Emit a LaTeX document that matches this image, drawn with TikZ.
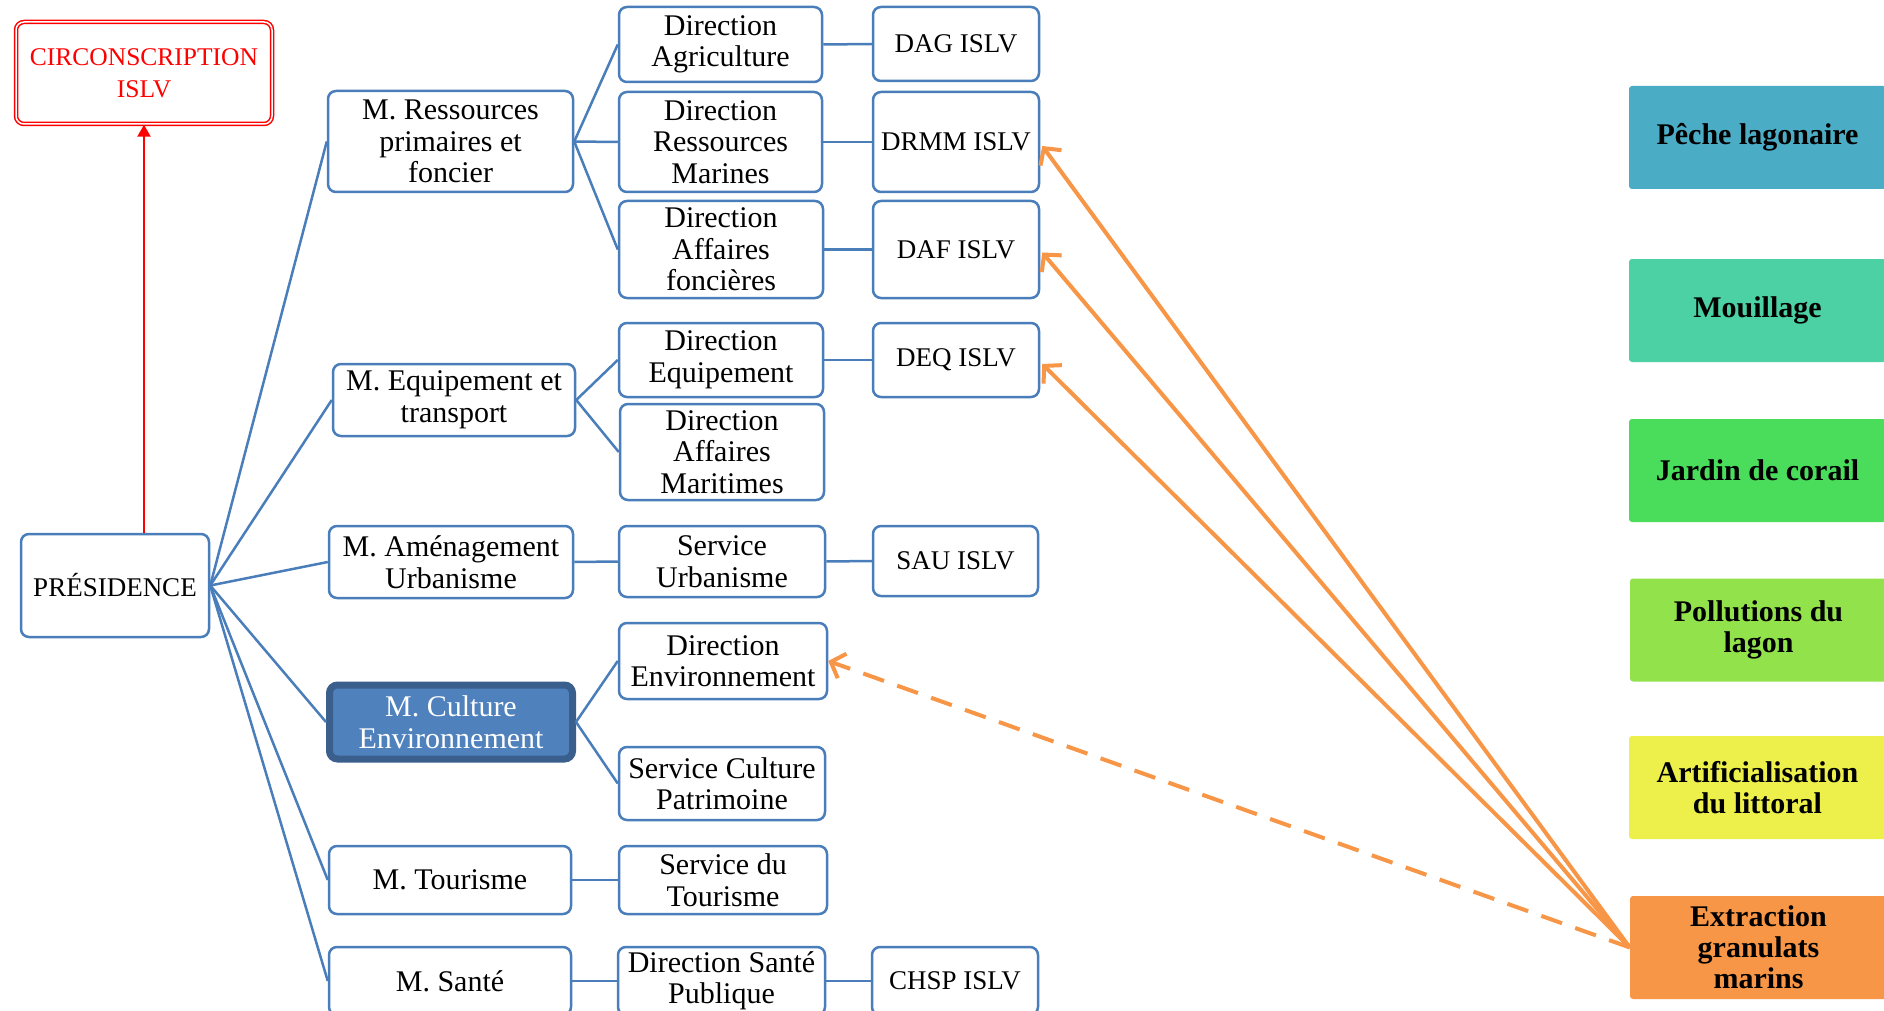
\documentclass[tikz,border=0pt]{standalone}
\usepackage{fontspec}
\setmainfont{Liberation Serif}
\usetikzlibrary{arrows.meta,calc}
\definecolor{bblue}{HTML}{4A7EBB}
\definecolor{cfill}{HTML}{4F81BD}
\definecolor{cdraw}{HTML}{3B5F8D}
\definecolor{oarr}{HTML}{F79646}
\definecolor{cpeche}{HTML}{4BACC6}
\definecolor{cmouil}{HTML}{4BD1A3}
\definecolor{cjardin}{HTML}{4ADD5B}
\definecolor{cpollu}{HTML}{92E34B}
\definecolor{cartif}{HTML}{EDF04A}
\definecolor{cextra}{HTML}{F79646}
\tikzset{
  box/.style={draw=bblue, line width=2.5pt, rounded corners=8pt, fill=white, align=center,
    inner sep=0pt, font=\fontsize{30}{31.5}\selectfont, text=black},
  islv/.style={box, font=\fontsize{27}{31}\selectfont},
  conn/.style={draw=bblue, line width=2.5pt},
  issue/.style={inner sep=0pt, align=center, rounded corners=3pt, minimum width=257pt,
    minimum height=103pt, font=\fontsize{30}{31}\selectfont\bfseries},
  oarrow/.style={draw=oarr, line width=4pt, -{Straight Barb[length=12pt,width=26pt]}},
}
\begin{document}
\begin{tikzpicture}[x=1pt,y=-1pt]
\clip (0,0) rectangle (1884,1011);
\fill[white] (0,0) rectangle (1884,1011);
% top left
\node[draw=red, double=white, double distance=1.5pt, line width=1.5pt, rounded corners=8pt,
  minimum width=256pt, minimum height=102pt, align=center, inner sep=0pt, text=red,
  font=\fontsize{25.5}{32}\selectfont] (circ) at (144,73) {CIRCONSCRIPTION\\ISLV};
\node[box, minimum width=188pt, minimum height=103pt, font=\fontsize{27}{31}\selectfont] (pres) at (115,585.5) {PRÉSIDENCE};
% ministries
\node[box, minimum width=245pt, minimum height=101pt] (mres) at (450.5,141.5) {M. Ressources\\primaires et\\foncier};
\node[box, minimum width=242pt, minimum height=72pt] (mequ) at (454,400) {M. Equipement et\\transport};
\node[box, minimum width=244pt, minimum height=72pt] (mame) at (451,562) {M. Aménagement\\Urbanisme};
\node[box, draw=cdraw, fill=cfill, line width=7pt, text=white, minimum width=243pt, minimum height=74pt] (mcul) at (451,722) {M. Culture\\Environnement};
\node[box, minimum width=242pt, minimum height=68pt] (mtou) at (450,880) {M. Tourisme};
\node[box, minimum width=242pt, minimum height=68pt] (msan) at (450,981) {M. Santé};
% directions
\node[box, minimum width=203pt, minimum height=75pt] (dag) at (720.5,44.5) {Direction\\Agriculture};
\node[box, minimum width=203pt, minimum height=100pt] (drm) at (720.5,142) {Direction\\Ressources\\Marines};
\node[box, minimum width=204pt, minimum height=97pt] (daf) at (721,249.5) {Direction\\Affaires\\foncières};
\node[box, minimum width=204pt, minimum height=74pt] (deq) at (721,360) {Direction\\Equipement};
\node[box, minimum width=204pt, minimum height=96pt] (dam) at (722,452) {Direction\\Affaires\\Maritimes};
\node[box, minimum width=206pt, minimum height=71pt] (sur) at (722,561.5) {Service\\Urbanisme};
\node[box, minimum width=208pt, minimum height=76pt] (den) at (723,661) {Direction\\Environnement};
\node[box, minimum width=206pt, minimum height=73pt] (scp) at (722,783.5) {Service Culture\\Patrimoine};
\node[box, minimum width=208pt, minimum height=68pt] (stou) at (723,880) {Service du\\Tourisme};
\node[box, minimum width=207pt, minimum height=68pt] (dsp) at (721.5,981) {Direction Santé\\Publique};
% ISLV
\node[islv, minimum width=166pt, minimum height=74pt] (dagi) at (956,44) {DAG ISLV};
\node[islv, minimum width=166pt, minimum height=100pt] (drmi) at (956,142) {DRMM ISLV};
\node[islv, minimum width=166pt, minimum height=97pt] (dafi) at (956,249.5) {DAF ISLV};
\node[islv, minimum width=166pt, minimum height=74pt] (deqi) at (956,360) {DEQ ISLV};
\node[islv, minimum width=165pt, minimum height=70pt] (saui) at (955.5,561) {SAU ISLV};
\node[islv, minimum width=166pt, minimum height=68pt] (chsp) at (955,981) {CHSP ISLV};
% issues
\node[issue, fill=cpeche] (peche) at (1757.5,137.5) {Pêche lagonaire};
\node[issue, fill=cmouil] (mouil) at (1757.5,310.5) {Mouillage};
\node[issue, fill=cjardin] (jardin) at (1757.5,470.5) {Jardin de corail};
\node[issue, fill=cpollu] (pollu) at (1758.5,630) {Pollutions du\\lagon};
\node[issue, fill=cartif] (artif) at (1757.5,787.5) {Artificialisation\\du littoral};
\node[issue, fill=cextra] (extra) at (1758.5,947.5) {Extraction\\granulats\\marins};
% connectors
\foreach \m in {mres,mequ,mame,mcul,mtou,msan} \draw[conn] (pres.east) -- (\m.west);
\foreach \d in {dag,drm,daf} \draw[conn] (mres.east) -- (\d.west);
\foreach \d in {deq,dam} \draw[conn] (mequ.east) -- (\d.west);
\foreach \d in {den,scp} \draw[conn] (mcul.east) -- (\d.west);
\draw[conn] (mame.east) -- (sur.west);
\draw[conn] (mtou.east) -- (stou.west);
\draw[conn] (msan.east) -- (dsp.west);
\draw[conn] (dag.east) -- (dagi.west);
\draw[conn] (drm.east) -- (drmi.west);
\draw[conn] (daf.east) -- (dafi.west);
\draw[conn] (deq.east) -- (deqi.west);
\draw[conn] (sur.east) -- (saui.west);
\draw[conn] (dsp.east) -- (chsp.west);
% red arrow
\draw[red, line width=2.5pt, -{Triangle[length=12pt,width=13pt]}] (circ.south |- pres.north) -- (circ.south);
% orange arrows
\draw[oarrow] (extra.west) -- ($(drmi.east)+(2,4)$);
\draw[oarrow] (extra.west) -- ($(dafi.east)+(2,3)$);
\draw[oarrow] (extra.west) -- ($(deqi.east)+(2,4)$);
\draw[oarrow, dash pattern=on 22pt off 14pt] (extra.west) -- (den.east);
\end{tikzpicture}
\end{document}
